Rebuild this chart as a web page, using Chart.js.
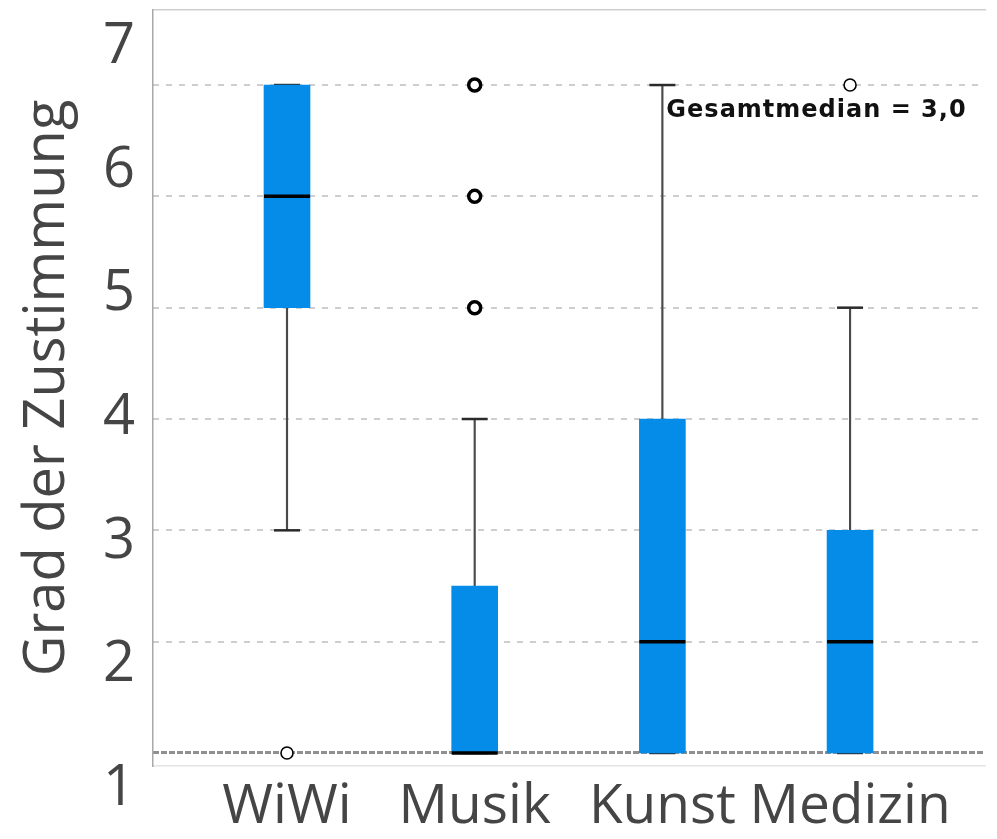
<!DOCTYPE html>
<html>
<head>
<meta charset="utf-8">
<script src="https://cdn.jsdelivr.net/npm/chart.js@4/dist/chart.umd.min.js"></script>
<style>
  html, body { margin: 0; padding: 0; background: #fff; }
  #wrap { width: 997px; height: 839px; }
</style>
</head>
<body>
<div id="wrap"><canvas id="c"></canvas></div>
<script>
// Boxplot summary per faculty (agreement scale 1..7)
const categories  = ['WiWi', 'Musik', 'Kunst', 'Medizin'];
const q1          = [5, 1,   1, 1];
const median      = [6, 1,   2, 2];
const q3          = [7, 2.5, 4, 3];
const whiskerLow  = [3, 1,   1, 1];
const whiskerHigh = [7, 4,   7, 5];
const outliers    = [[1], [5, 6, 7], [], [7]];
const yTicks      = [1, 2, 3, 4, 5, 6, 7];
const overallMedian = 3.0;

const xs = categories.map((_, i) => i + 1);
const FONT = "'Open Sans', sans-serif";

const boxData      = xs.map((x, i) => ({ x, y: [q1[i], q3[i]] }));
const lowerWhisker = xs.map((x, i) => ({ x, y: [whiskerLow[i], q1[i]] }));
const upperWhisker = xs.map((x, i) => ({ x, y: [q3[i], whiskerHigh[i]] }));
const capData      = xs.flatMap((x, i) => [{ x, y: whiskerLow[i] }, { x, y: whiskerHigh[i] }]);
const medianData   = xs.map((x, i) => ({ x, y: median[i] }));
const outlierData  = xs.flatMap((x, i) => outliers[i].map(v => ({ x, y: v })));

// Free text note with the overall median, anchored to the Kunst column
const noteLabel = {
  id: 'noteLabel',
  afterDatasetsDraw(chart) {
    const { ctx, scales } = chart;
    const px = scales.x.getPixelForValue(3) + 4;
    const py = scales.y.getPixelForValue(7) + 32;
    ctx.save();
    ctx.font = "bold 24px 'DejaVu Sans', sans-serif";
    if ('letterSpacing' in ctx) ctx.letterSpacing = '1px';
    ctx.fillStyle = '#111';
    ctx.textBaseline = 'alphabetic';
    ctx.fillText('Gesamtmedian = ' + overallMedian.toFixed(1).replace('.', ','), px, py);
    ctx.restore();
  }
};

const setTicks = values => scale => { scale.ticks = values.map(v => ({ value: v })); };
// fixed axis size, and no extra room reserved for overhanging labels
const fixSize = (w, h) => s => {
  if (w !== null) s.width = w;
  if (h !== null) s.height = h;
  s.paddingTop = 0; s.paddingBottom = 0; s.paddingLeft = 0; s.paddingRight = 0;
};
const isBase = c => c.tick && c.tick.value === 1;

new Chart(document.getElementById('c'), {
  type: 'scatter',
  data: {
    datasets: [
      { type: 'bar', data: lowerWhisker, backgroundColor: '#4a4a4a', barThickness: 1.5, grouped: false, order: 6 },
      { type: 'bar', data: upperWhisker, backgroundColor: '#4a4a4a', barThickness: 1.5, grouped: false, order: 6 },
      { type: 'scatter', data: capData, pointStyle: 'line', pointRadius: 13, pointBorderWidth: 2.5,
        pointBorderColor: '#2a2a2a', order: 5 },
      { type: 'bar', data: boxData, backgroundColor: '#058ce8', barThickness: 46, grouped: false,
        borderWidth: 0, order: 4 },
      { type: 'scatter', data: medianData, pointStyle: 'line', pointRadius: 23, pointBorderWidth: 3.5,
        pointBorderColor: '#000', order: 2 },
      { type: 'scatter', data: outlierData, pointStyle: 'circle', pointRadius: 6,
        pointBackgroundColor: '#fff', pointBorderColor: '#000',
        pointBorderWidth: ctx => (ctx.raw && ctx.raw.x === 2 ? 3.5 : 1.6), order: 1 }
    ]
  },
  options: {
    responsive: true,
    maintainAspectRatio: false,
    animation: false,
    events: [],
    layout: { autoPadding: false, padding: { top: 10, right: 12, left: 0, bottom: 0 } },
    plugins: { legend: { display: false }, tooltip: { enabled: false } },
    scales: {
      x: {
        type: 'linear', position: 'bottom',
        min: 0.286, max: 4.719, offset: false,
        afterBuildTicks: setTicks(xs),
        afterFit: fixSize(null, 73),
        grid: { display: false, offset: false, drawTicks: false },
        border: { display: true, color: '#e4e4e4', width: 1.5 },
        ticks: {
          autoSkip: false, maxRotation: 0, padding: 8,
          color: '#454545', font: { family: FONT, size: 55 },
          callback: v => categories[v - 1] ?? ''
        }
      },
      xTop: {
        type: 'linear', position: 'top', display: true,
        afterFit: fixSize(null, 0),
        grid: { display: false, drawTicks: false },
        ticks: { display: false },
        border: { display: true, color: '#cfcfcf', width: 1.5 }
      },
      y: {
        type: 'linear', position: 'left', weight: 0,
        min: 0.883, max: 7.674,
        afterBuildTicks: setTicks(yTicks),
        afterFit: fixSize(0, null),
        ticks: { display: false },
        grid: {
          drawTicks: false,
          lineWidth: c => (isBase(c) ? 3 : 2),
          color: c => (isBase(c) ? 'rgba(125,125,125,0.85)' : 'rgba(185,185,185,0.7)')
        },
        border: {
          display: false,
          dash: c => (isBase(c) ? [6, 2] : [6, 7])
        }
      },
      yLabels: {
        type: 'linear', position: 'left', weight: 1,
        min: 0.9434, max: 7.0566,
        afterBuildTicks: setTicks(yTicks),
        afterFit: fixSize(153, null),
        grid: { display: false, drawTicks: false },
        border: { display: true, color: '#a8a8a8', width: 1.5 },
        ticks: {
          labelOffset: 30, padding: 18,
          color: '#454545', font: { family: FONT, size: 56 }
        },
        title: {
          display: true, text: 'Grad der Zustimmung',
          color: '#454545', font: { family: FONT, size: 56 },
          padding: { top: 14, bottom: 0 }
        }
      }
    }
  },
  plugins: [noteLabel]
});
</script>
</body>
</html>
